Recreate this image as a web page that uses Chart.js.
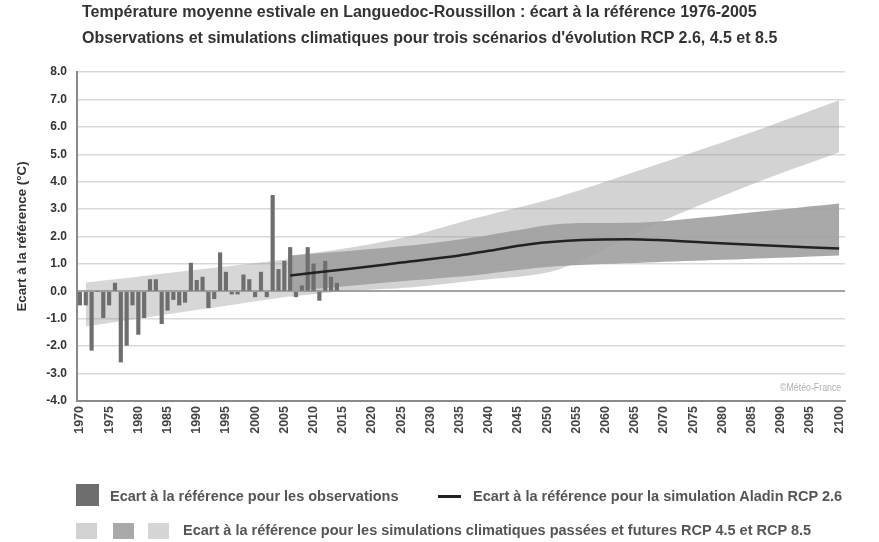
<!DOCTYPE html>
<html>
<head>
<meta charset="utf-8">
<script src="https://cdn.jsdelivr.net/npm/chart.js@4.4.1/dist/chart.umd.min.js"></script>
<style>
  body { margin: 0; background: #fff; font-family: "Liberation Sans", Arial, sans-serif; }
  #wrap { position: relative; width: 879px; height: 542px; overflow: hidden; }
  #chart { position: absolute; left: 0; top: 0; }
  .title { position: absolute; left: 82px; font-weight: bold; font-size: 16px; color: #333; white-space: nowrap; }
  .leg { position: absolute; font-weight: bold; font-size: 14.5px; color: #555; white-space: nowrap; }
  .sw { position: absolute; }
  #credit { position: absolute; left: 780px; top: 381px; font-size: 11px; color: #b0b0b0; white-space: nowrap;
    transform: scaleX(0.8); transform-origin: left top; }
</style>
</head>
<body>
<div id="wrap">
  <canvas id="chart" width="879" height="542"></canvas>
  <div class="title" style="top:3px">Température moyenne estivale en Languedoc-Roussillon : écart à la référence 1976-2005</div>
  <div class="title" style="top:29px">Observations et simulations climatiques pour trois scénarios d'évolution RCP 2.6, 4.5 et 8.5</div>
  <div id="credit">©Météo-France</div>

  <div class="sw" style="left:76px;top:484px;width:23px;height:22px;background:#6e6e6e"></div>
  <div class="leg" style="left:110px;top:488px">Ecart à la référence pour les observations</div>
  <div class="sw" style="left:438px;top:495px;width:23px;height:3px;background:#222"></div>
  <div class="leg" style="left:473px;top:488px">Ecart à la référence pour la simulation Aladin RCP 2.6</div>

  <div class="sw" style="left:76px;top:523px;width:21px;height:16px;background:#d2d2d2"></div>
  <div class="sw" style="left:113px;top:523px;width:21px;height:16px;background:#a9a9a9"></div>
  <div class="sw" style="left:148px;top:523px;width:21px;height:16px;background:#d6d6d6"></div>
  <div class="leg" style="left:183px;top:522px">Ecart à la référence pour les simulations climatiques passées et futures RCP 4.5 et RCP 8.5</div>
</div>

<script>
// observations (écart à la référence, °C)
const obsYears = [1970, 1971, 1972, 1973, 1974, 1975, 1976, 1977, 1978, 1979,
  1980, 1981, 1982, 1983, 1984, 1985, 1986, 1987, 1988, 1989,
  1990, 1991, 1992, 1993, 1994, 1995, 1996, 1997, 1998, 1999,
  2000, 2001, 2002, 2003, 2004, 2005, 2006, 2007, 2008, 2009,
  2010, 2011, 2012, 2013, 2014];
const obsValues = [-0.5, -0.5, -2.15, 0.0, -0.96, -0.5, 0.3, -2.58, -1.97, -0.5,
  -1.57, -0.96, 0.43, 0.43, -1.18, -0.69, -0.3, -0.5, -0.4, 1.03,
  0.4, 0.52, -0.6, -0.27, 1.41, 0.7, -0.1, -0.1, 0.6, 0.43,
  -0.2, 0.7, -0.2, 3.5, 0.8, 1.1, 1.6, -0.2, 0.2, 1.6,
  1.0, -0.33, 1.1, 0.52, 0.3];

// simulation Aladin RCP 2.6
const aladinYears = [2006, 2017, 2025, 2035, 2040, 2047, 2056, 2064, 2069, 2077, 2086, 2100];
const aladinValues = [0.58, 0.84, 1.05, 1.31, 1.48, 1.72, 1.87, 1.9, 1.87, 1.78, 1.69, 1.56];

// simulations passées (enveloppe)
const pastYears = [1971, 2006];
const pastLow = [-1.28, -0.18];
const pastHigh = [0.32, 1.18];

// RCP 8.5 (enveloppe)
const rcp85Years = [2006, 2015, 2027, 2038, 2052, 2069, 2085, 2100];
const rcp85Low = [-0.2, 0.0, 0.15, 0.4, 0.8, 2.5, 3.9, 5.07];
const rcp85High = [1.3, 1.55, 2.04, 2.68, 3.45, 4.64, 5.8, 6.97];

// RCP 4.5 (enveloppe)
const rcp45Years = [2006, 2027, 2038, 2044, 2052, 2067, 2080, 2100];
const rcp45Low = [0.0, 0.4, 0.6, 0.75, 0.92, 1.05, 1.15, 1.31];
const rcp45High = [1.3, 1.68, 1.98, 2.2, 2.46, 2.52, 2.77, 3.2];

const yearTicks = [1970, 1975, 1980, 1985, 1990, 1995, 2000, 2005, 2010, 2015, 2020, 2025, 2030,
  2035, 2040, 2045, 2050, 2055, 2060, 2065, 2070, 2075, 2080, 2085, 2090, 2095, 2100];

const pts = (xs, ys) => xs.map((x, i) => ({ x: x, y: ys[i] }));

const band = (xs, ys, fill, color, order) => ({
  type: "line",
  data: pts(xs, ys),
  borderWidth: 0,
  pointRadius: 0,
  tension: 0.3,
  fill: fill,
  backgroundColor: color,
  borderColor: "rgba(0,0,0,0)",
  order: order,
});

const fam = "'Liberation Sans', Arial, sans-serif";

new Chart(document.getElementById("chart"), {
  type: "bar",
  data: {
    datasets: [
      band(pastYears, pastLow, false, "rgba(0,0,0,0)", 10),
      band(pastYears, pastHigh, "-1", "rgba(150,150,150,0.38)", 10),
      band(rcp85Years, rcp85Low, false, "rgba(0,0,0,0)", 9),
      band(rcp85Years, rcp85High, "-1", "rgba(150,150,150,0.42)", 9),
      band(rcp45Years, rcp45Low, false, "rgba(0,0,0,0)", 8),
      band(rcp45Years, rcp45High, "-1", "rgba(160,160,160,0.9)", 8),
      {
        type: "bar",
        data: pts(obsYears, obsValues),
        backgroundColor: "#6e6e6e",
        barThickness: 3.5,
        order: 2,
      },
      {
        type: "line",
        data: pts(aladinYears, aladinValues),
        borderColor: "#222",
        borderWidth: 2.5,
        pointRadius: 0,
        cubicInterpolationMode: "monotone",
        fill: false,
        order: 1,
      },
    ],
  },
  options: {
    responsive: false,
    animation: false,
    layout: { padding: { left: 0, top: 72, right: 34, bottom: 101 } },
    plugins: { legend: { display: false }, tooltip: { enabled: false }, title: { display: false } },
    scales: {
      x: {
        type: "linear",
        offset: false,
        min: 1969.5,
        max: 2101,
        afterFit: (s) => { s.height = 40; },
        afterBuildTicks: (s) => { s.ticks = yearTicks.map((v) => ({ value: v })); },
        ticks: {
          autoSkip: false,
          minRotation: 90,
          maxRotation: 90,
          padding: 5,
          color: "#444",
          font: { family: fam, weight: "bold", size: 12.5 },
          callback: (v) => String(v),
        },
        grid: { color: "rgba(0,0,0,0)", drawTicks: false, offset: false },
        border: { display: true, color: "#8a8a8a", width: 2 },
      },
      y: {
        min: -4,
        max: 8,
        afterFit: (s) => { s.width = 77; },
        ticks: {
          stepSize: 1,
          padding: 10,
          color: "#333",
          font: { family: fam, weight: "bold", size: 12 },
          callback: (v) => v.toFixed(1),
        },
        grid: {
          drawTicks: false,
          color: (c) => (c.tick && c.tick.value === 0 ? "#a3a3a3" : "#d9d9d9"),
          lineWidth: (c) => (c.tick && c.tick.value === 0 ? 2 : 1.5),
        },
        border: { display: true, color: "#8a8a8a", width: 2 },
        title: {
          display: true,
          text: "Ecart à la référence (°C)",
          color: "#333",
          font: { family: fam, weight: "bold", size: 13.3 },
          padding: { top: 14, bottom: 0 },
        },
      },
    },
  },
});
</script>
</body>
</html>
